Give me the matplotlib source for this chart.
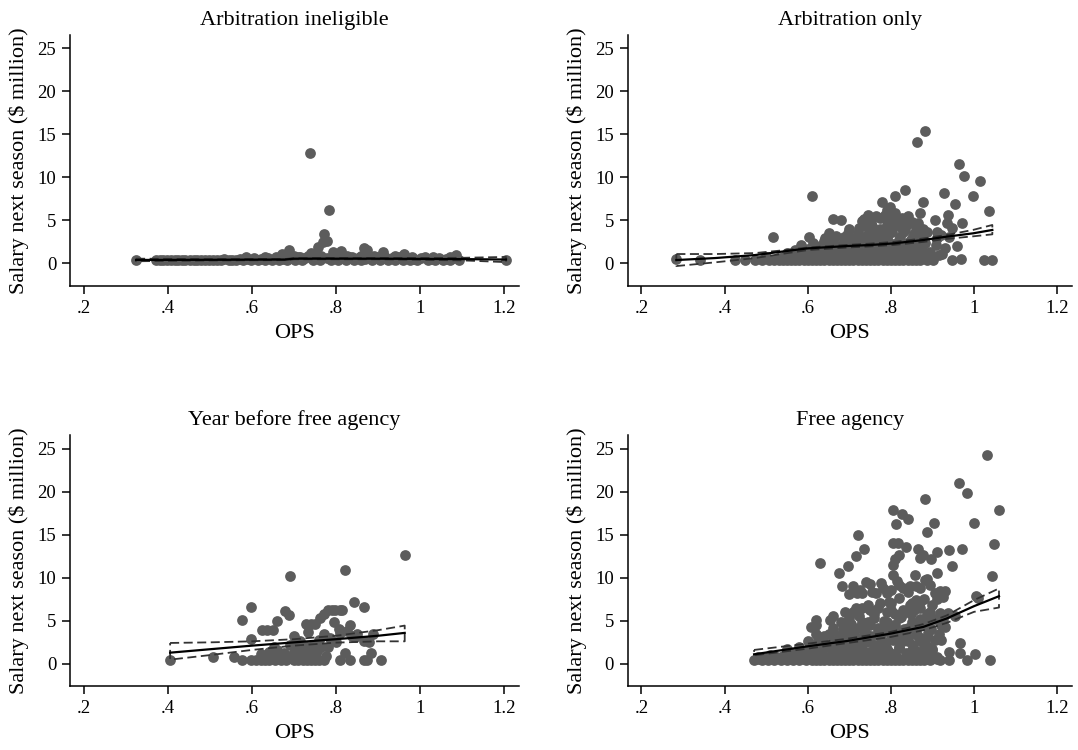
import matplotlib
matplotlib.use("Agg")
import matplotlib.pyplot as plt
import numpy as np

plt.rcParams['font.family'] = ['Liberation Serif', 'DejaVu Serif']

titles = ["Arbitration ineligible", "Arbitration only",
          "Year before free agency", "Free agency"]
xticks = [0.2, 0.4, 0.6, 0.8, 1.0, 1.2]
xticklabels = [".2", ".4", ".6", ".8", "1", "1.2"]
yticks = [0, 5, 10, 15, 20, 25]

# (OPS, salary next season in $ million)
pts_inelig = [
    (0.324, 0.4), (0.372, 0.42), (0.381, 0.4), (0.389, 0.45), (0.398, 0.4),
    (0.407, 0.42), (0.416, 0.4), (0.424, 0.45), (0.433, 0.4), (0.441, 0.42),
    (0.452, 0.4), (0.461, 0.45), (0.469, 0.4), (0.478, 0.42), (0.489, 0.4),
    (0.497, 0.45), (0.508, 0.4), (0.517, 0.42), (0.526, 0.4), (0.534, 0.5),
    (0.545, 0.4), (0.553, 0.45), (0.562, 0.4), (0.571, 0.55), (0.579, 0.4),
    (0.588, 0.5), (0.597, 0.4), (0.605, 0.6), (0.614, 0.42), (0.622, 0.5),
    (0.631, 0.4), (0.639, 0.6), (0.648, 0.45), (0.657, 0.7), (0.665, 0.4),
    (0.672, 1.05), (0.674, 0.55), (0.683, 0.4), (0.688, 1.56), (0.692, 0.6),
    (0.701, 0.45), (0.709, 0.7), (0.718, 0.4), (0.726, 0.6), (0.733, 0.9),
    (0.737, 12.8), (0.741, 1.2), (0.744, 0.45), (0.752, 0.7), (0.757, 1.94),
    (0.761, 0.4), (0.768, 2.49), (0.772, 3.46), (0.777, 2.64), (0.782, 6.26),
    (0.779, 0.6), (0.787, 0.45), (0.792, 1.28), (0.796, 0.7), (0.804, 0.4),
    (0.811, 1.4), (0.815, 0.6), (0.823, 0.45), (0.831, 0.7), (0.837, 0.78),
    (0.842, 0.4), (0.851, 0.6), (0.858, 0.45), (0.867, 1.79), (0.873, 1.56),
    (0.868, 0.5), (0.877, 0.7), (0.886, 0.4), (0.891, 0.9), (0.897, 0.6),
    (0.905, 0.45), (0.911, 1.36), (0.916, 0.7), (0.924, 0.4), (0.933, 0.6),
    (0.941, 0.45), (0.95, 0.7), (0.958, 0.4), (0.961, 1.13), (0.968, 0.6),
    (0.976, 0.45), (0.985, 0.5), (0.993, 0.4), (1.002, 0.6), (1.012, 0.7),
    (1.018, 0.45), (1.027, 0.5), (1.036, 0.4), (1.045, 0.6), (1.053, 0.45),
    (1.062, 0.5), (1.071, 0.4), (1.078, 0.6), (1.085, 0.97), (1.093, 0.45),
    (1.204, 0.4),
    (0.585, 0.75), (0.63, 0.8), (0.67, 0.75), (0.70, 0.9), (0.715, 0.8),
    (0.748, 0.95), (0.765, 0.85), (0.8, 0.9), (0.825, 0.85), (0.86, 0.9),
    (0.9, 0.8), (0.94, 0.85), (0.98, 0.8), (1.03, 0.75), (1.07, 0.7),
]
pts_arb = [
    (0.284, 0.47), (0.340, 0.4), (0.425, 0.4), (0.45, 0.4), (0.473, 0.4),
    (0.489, 0.4), (0.506, 0.4), (0.518, 0.45), (0.53, 0.4), (0.54, 0.42),
    (0.55, 0.4), (0.56, 0.45), (0.57, 0.4), (0.58, 0.42), (0.59, 0.4),
    (0.60, 0.45), (0.61, 0.4), (0.62, 0.42), (0.63, 0.4), (0.64, 0.45),
    (0.65, 0.4), (0.66, 0.42), (0.67, 0.4), (0.68, 0.45), (0.69, 0.4),
    (0.70, 0.42), (0.71, 0.4), (0.72, 0.45), (0.73, 0.4), (0.74, 0.42),
    (0.75, 0.4), (0.76, 0.45), (0.77, 0.4), (0.78, 0.42), (0.79, 0.4),
    (0.80, 0.45), (0.81, 0.4), (0.82, 0.42), (0.83, 0.4), (0.84, 0.45),
    (0.85, 0.4), (0.86, 0.42), (0.87, 0.4), (0.886, 0.4), (0.902, 0.4),
    (0.946, 0.4), (0.968, 0.5), (1.024, 0.4), (1.044, 0.4),
    (0.50, 0.8), (0.528, 0.66), (0.56, 1.0), (0.59, 0.9), (0.62, 1.1),
    (0.65, 0.9), (0.68, 1.2), (0.71, 0.9), (0.74, 1.1), (0.77, 0.9),
    (0.80, 1.2), (0.83, 0.9), (0.86, 1.1), (0.874, 1.56), (0.88, 1.1),
    (0.924, 1.09), (0.57, 1.6), (0.583, 2.14), (0.60, 1.7), (0.63, 2.0),
    (0.66, 1.6), (0.69, 2.1), (0.72, 1.7), (0.75, 2.0), (0.78, 1.6),
    (0.81, 2.1), (0.84, 1.7), (0.87, 2.0), (0.93, 1.75), (0.959, 2.02),
    (0.517, 3.07), (0.602, 3.03), (0.641, 2.92), (0.687, 3.11), (0.66, 2.6),
    (0.71, 2.7), (0.73, 3.0), (0.76, 2.6), (0.79, 3.1), (0.82, 2.7),
    (0.85, 3.0), (0.88, 2.6), (0.91, 2.9), (0.94, 3.1),
    (0.652, 3.58), (0.70, 3.97), (0.72, 3.5), (0.75, 3.9), (0.77, 3.6),
    (0.80, 4.0), (0.83, 3.6), (0.86, 3.9), (0.878, 4.0), (0.948, 4.16),
    (0.91, 3.7), (0.66, 5.13), (0.68, 5.05), (0.731, 4.94), (0.753, 4.67),
    (0.773, 5.25), (0.801, 4.86), (0.827, 5.25), (0.85, 4.86), (0.865, 4.67),
    (0.905, 5.05), (0.934, 4.67), (0.972, 4.74), (0.79, 4.5), (0.74, 4.3),
    (0.746, 5.68), (0.785, 5.64), (0.791, 6.22), (0.797, 6.61), (0.869, 5.83),
    (0.938, 5.64), (0.81, 5.9), (0.84, 5.5), (1.037, 6.1),
    (0.610, 7.85), (0.779, 7.15), (0.811, 7.85), (0.835, 8.51), (0.877, 7.15),
    (0.928, 8.16), (0.954, 6.92), (0.998, 7.85), (0.862, 14.07), (0.882, 15.36),
    (0.964, 11.51), (0.975, 10.19), (1.014, 9.6),
    # dense middle of the cloud
    (0.54, 0.7), (0.55, 1.2), (0.565, 0.6), (0.575, 1.4), (0.585, 0.8),
    (0.595, 1.3), (0.605, 0.7), (0.612, 2.4), (0.618, 1.5), (0.625, 0.7),
    (0.632, 1.9), (0.638, 2.6), (0.645, 1.3), (0.652, 0.7), (0.655, 2.3),
    (0.662, 1.6), (0.668, 3.2), (0.672, 0.8), (0.676, 2.0), (0.682, 1.4),
    (0.688, 2.6), (0.692, 0.7), (0.697, 3.5), (0.702, 1.6), (0.706, 2.3),
    (0.712, 0.8), (0.716, 3.0), (0.72, 1.9), (0.724, 4.1), (0.728, 1.2),
    (0.733, 2.5), (0.737, 0.7), (0.742, 3.3), (0.746, 1.6), (0.75, 2.2),
    (0.754, 4.3), (0.758, 0.9), (0.762, 3.0), (0.766, 1.5), (0.77, 2.5),
    (0.774, 4.0), (0.778, 0.8), (0.782, 3.4), (0.786, 1.8), (0.79, 2.8),
    (0.794, 5.2), (0.798, 1.2), (0.802, 3.7), (0.806, 2.2), (0.81, 0.8),
    (0.814, 4.5), (0.818, 1.6), (0.822, 3.1), (0.826, 2.4), (0.83, 0.9),
    (0.834, 3.9), (0.838, 1.5), (0.842, 4.6), (0.846, 2.6), (0.85, 1.1),
    (0.855, 3.4), (0.86, 2.0), (0.865, 0.8), (0.87, 3.0), (0.876, 1.6),
    (0.882, 2.4), (0.888, 3.6), (0.895, 1.3), (0.9, 0.7), (0.908, 2.1),
    (0.915, 1.0), (0.92, 3.3), (0.7, 0.6), (0.72, 0.6), (0.74, 0.6),
    (0.76, 0.6), (0.78, 0.6), (0.8, 0.6), (0.82, 0.6), (0.84, 0.6),
    (0.735, 5.2), (0.765, 5.5), (0.81, 5.0), (0.825, 4.2), (0.62, 0.6),
    (0.64, 0.7), (0.66, 0.6), (0.68, 0.7), (0.58, 0.6), (0.6, 0.8),
]
pts_yrbefore = [
    (0.405, 0.4), (0.575, 0.45), (0.598, 0.4), (0.61, 0.4), (0.62, 0.4),
    (0.63, 0.4), (0.64, 0.4), (0.655, 0.4), (0.668, 0.4), (0.68, 0.4),
    (0.70, 0.4), (0.71, 0.4), (0.72, 0.4), (0.73, 0.4), (0.74, 0.4),
    (0.75, 0.4), (0.76, 0.4), (0.77, 0.4), (0.81, 0.4), (0.832, 0.4),
    (0.866, 0.4), (0.873, 0.4), (0.906, 0.4),
    (0.507, 0.74), (0.557, 0.78), (0.575, 5.13), (0.598, 6.57), (0.598, 2.84),
    (0.623, 3.97), (0.636, 3.89), (0.65, 3.97), (0.659, 4.98), (0.652, 1.94),
    (0.64, 1.3), (0.62, 1.1), (0.66, 0.9), (0.678, 6.18), (0.687, 5.72),
    (0.69, 10.15), (0.70, 1.9), (0.71, 1.5), (0.72, 1.2), (0.73, 0.9),
    (0.69, 2.2), (0.728, 4.59), (0.74, 4.59), (0.749, 4.59), (0.732, 3.69),
    (0.762, 5.33), (0.772, 5.75), (0.78, 6.22), (0.789, 6.3), (0.798, 6.3),
    (0.81, 6.3), (0.815, 6.3), (0.821, 10.85), (0.794, 4.86), (0.806, 4.08),
    (0.834, 4.55), (0.842, 7.15), (0.867, 6.65), (0.772, 3.42), (0.78, 1.94),
    (0.82, 1.28), (0.838, 3.2), (0.845, 3.1), (0.865, 2.6), (0.877, 2.5),
    (0.883, 1.24), (0.887, 3.42), (0.963, 12.68), (0.76, 2.8), (0.745, 2.2),
    (0.755, 1.5), (0.70, 3.2), (0.715, 2.6), (0.80, 2.5), (0.81, 3.6),
    (0.825, 3.8), (0.85, 3.4),
    (0.695, 1.0), (0.705, 2.6), (0.725, 2.0), (0.735, 1.3), (0.75, 1.0),
    (0.765, 1.9), (0.775, 0.9), (0.785, 3.0), (0.66, 1.6), (0.675, 1.2),
]
pts_free = [
    (0.471, 0.4), (0.49, 0.4), (0.505, 0.4), (0.52, 0.4), (0.535, 0.4),
    (0.55, 0.4), (0.565, 0.4), (0.58, 0.4), (0.595, 0.4), (0.61, 0.4),
    (0.62, 0.4), (0.63, 0.4), (0.64, 0.4), (0.65, 0.4), (0.66, 0.4),
    (0.67, 0.4), (0.68, 0.4), (0.69, 0.4), (0.70, 0.4), (0.71, 0.4),
    (0.72, 0.4), (0.73, 0.4), (0.74, 0.4), (0.75, 0.4), (0.76, 0.4),
    (0.77, 0.4), (0.78, 0.4), (0.79, 0.4), (0.80, 0.4), (0.81, 0.4),
    (0.82, 0.4), (0.83, 0.4), (0.84, 0.4), (0.85, 0.4), (0.86, 0.4),
    (0.87, 0.4), (0.88, 0.4), (0.895, 0.4), (0.917, 0.4), (0.94, 0.4),
    (0.983, 0.4), (1.039, 0.4),
    (0.48, 0.8), (0.51, 1.0), (0.54, 0.9), (0.57, 1.1), (0.60, 0.9),
    (0.63, 1.1), (0.66, 0.9), (0.69, 1.1), (0.72, 0.9), (0.75, 1.1),
    (0.78, 0.9), (0.81, 1.1), (0.84, 0.9), (0.87, 1.1), (0.89, 0.9),
    (0.94, 1.4), (0.966, 1.2), (1.003, 1.13),
    (0.55, 1.7), (0.58, 1.9), (0.61, 1.6), (0.64, 2.0), (0.67, 1.7),
    (0.70, 1.9), (0.73, 1.6), (0.76, 2.0), (0.79, 1.7), (0.82, 1.9),
    (0.85, 1.6), (0.88, 2.0), (0.90, 1.7), (0.966, 2.41),
    (0.60, 2.6), (0.63, 2.9), (0.66, 2.5), (0.69, 2.9), (0.72, 2.6),
    (0.75, 2.9), (0.78, 2.5), (0.81, 2.9), (0.84, 2.6), (0.87, 2.9),
    (0.92, 2.8), (0.62, 3.5), (0.652, 3.5), (0.68, 3.3), (0.71, 3.7),
    (0.74, 3.4), (0.77, 3.8), (0.80, 3.3), (0.83, 3.7), (0.86, 3.4),
    (0.89, 3.6), (0.608, 4.28), (0.66, 4.2), (0.69, 4.5), (0.72, 4.1),
    (0.75, 4.5), (0.78, 4.2), (0.81, 4.5), (0.84, 4.1), (0.861, 3.9),
    (0.93, 4.3), (0.885, 4.5), (0.619, 5.05), (0.653, 5.05), (0.68, 4.9),
    (0.70, 5.3), (0.73, 4.9), (0.76, 5.3), (0.79, 4.9), (0.82, 5.3),
    (0.85, 4.9), (0.87, 5.2), (0.89, 4.9), (0.925, 5.2),
    (0.71, 6.0), (0.73, 6.5), (0.75, 6.2), (0.77, 6.5), (0.79, 6.0),
    (0.81, 5.8), (0.83, 6.3), (0.845, 6.8), (0.87, 6.5), (0.887, 5.8),
    (0.917, 5.9), (0.937, 5.9), (0.955, 5.5),
    (0.699, 8.16), (0.718, 8.17), (0.731, 8.17), (0.740, 9.52), (0.754, 8.3),
    (0.776, 9.4), (0.79, 8.2), (0.78, 8.8), (0.806, 10.3), (0.683, 9.02),
    (0.674, 10.57), (0.82, 9.1), (0.83, 8.8), (0.845, 9.0), (0.86, 9.0),
    (0.859, 10.3), (0.883, 9.7), (0.906, 8.2), (0.918, 8.4), (0.93, 8.5),
    (0.91, 10.5), (1.004, 7.85), (1.01, 7.6), (0.80, 7.0), (0.82, 7.6),
    (0.85, 7.0), (0.86, 7.4), (0.88, 7.5), (0.90, 6.8), (0.888, 9.9),
    (0.629, 11.7), (0.697, 11.39), (0.715, 12.52), (0.720, 14.93), (0.736, 13.34),
    (0.805, 11.5), (0.811, 12.17), (0.819, 12.64), (0.804, 17.85), (0.805, 14.07),
    (0.813, 16.21), (0.817, 14.0), (0.826, 17.42), (0.840, 16.8), (0.836, 13.53),
    (0.869, 12.25), (0.877, 12.64), (0.896, 12.13), (0.910, 12.99), (0.864, 13.3),
    (0.881, 19.2), (0.886, 15.32), (0.903, 16.33), (0.94, 13.22), (0.946, 11.35),
    (0.963, 21.0), (0.97, 13.3), (0.982, 19.83), (1.0, 16.4), (1.032, 24.3),
    (1.049, 13.92), (1.043, 10.19), (1.059, 17.88),
    # dense middle of the cloud
    (0.48, 0.6), (0.495, 0.7), (0.51, 0.5), (0.525, 0.8), (0.54, 0.6),
    (0.555, 1.3), (0.56, 0.6), (0.57, 0.8), (0.585, 1.5), (0.59, 0.6),
    (0.6, 1.2), (0.605, 2.2), (0.612, 0.7), (0.618, 1.8), (0.625, 2.8),
    (0.63, 0.6), (0.635, 1.4), (0.64, 3.2), (0.645, 2.2), (0.65, 0.8),
    (0.655, 1.7), (0.66, 3.8), (0.664, 2.6), (0.668, 0.7), (0.672, 1.3),
    (0.676, 3.0), (0.68, 2.0), (0.684, 4.0), (0.688, 0.8), (0.692, 2.6),
    (0.696, 1.5), (0.7, 3.5), (0.704, 4.6), (0.708, 0.7), (0.712, 2.2),
    (0.716, 1.3), (0.72, 3.0), (0.724, 5.5), (0.728, 1.8), (0.732, 0.7),
    (0.736, 3.8), (0.74, 2.5), (0.744, 4.8), (0.748, 1.4), (0.752, 3.2),
    (0.756, 0.8), (0.76, 5.8), (0.764, 2.2), (0.768, 4.2), (0.772, 1.6),
    (0.776, 3.0), (0.78, 0.7), (0.784, 5.0), (0.788, 2.4), (0.792, 3.8),
    (0.796, 1.3), (0.8, 6.2), (0.804, 2.8), (0.808, 4.5), (0.812, 0.8),
    (0.816, 3.4), (0.82, 1.8), (0.824, 5.4), (0.828, 2.6), (0.832, 4.0),
    (0.836, 1.2), (0.84, 3.0), (0.844, 0.7), (0.848, 5.8), (0.852, 2.2),
    (0.856, 4.2), (0.86, 1.5), (0.864, 3.2), (0.868, 0.8), (0.872, 2.6),
    (0.876, 4.6), (0.88, 1.3), (0.884, 3.0), (0.888, 2.0), (0.892, 0.7),
    (0.896, 4.0), (0.9, 1.6), (0.905, 2.8), (0.91, 0.8), (0.915, 3.4),
    (0.62, 4.5), (0.66, 5.6), (0.69, 6.0), (0.715, 6.5), (0.745, 6.8),
    (0.775, 7.0), (0.795, 7.2), (0.83, 5.9), (0.855, 6.3), (0.87, 7.2),
    (0.895, 6.0), (0.905, 5.2), (0.92, 4.5), (0.7, 0.5), (0.73, 0.5),
    (0.76, 0.5), (0.79, 0.5), (0.82, 0.5), (0.85, 0.5), (0.88, 0.5),
    (0.91, 0.6), (0.71, 9.0), (0.725, 8.6), (0.75, 9.3), (0.765, 8.2),
    (0.8, 8.6), (0.815, 9.6), (0.84, 8.3), (0.87, 8.8), (0.895, 9.2),
    (0.91, 7.5), (0.925, 7.8),
]

# fitted line with confidence band: (OPS, fit, upper, lower)
fit_inelig = [(0.324, 0.4, 0.55, 0.25), (0.5, 0.42, 0.5, 0.34),
              (0.68, 0.45, 0.52, 0.38), (0.70, 0.55, 0.62, 0.48),
              (0.9, 0.55, 0.62, 0.48), (1.1, 0.5, 0.65, 0.35),
              (1.204, 0.45, 0.75, 0.15)]
fit_arb = [(0.284, 0.39, 1.09, -0.31), (0.377, 0.62, 1.09, 0.12),
           (0.473, 0.97, 1.2, 0.62), (0.536, 1.36, 1.5, 1.09),
           (0.6, 1.75, 1.85, 1.55), (0.695, 2.02, 2.15, 1.85),
           (0.751, 2.14, 2.3, 1.98), (0.807, 2.33, 2.5, 2.15),
           (0.878, 2.72, 2.9, 2.5), (0.934, 3.11, 3.3, 2.85),
           (0.998, 3.5, 3.9, 3.15), (1.044, 3.89, 4.47, 3.38)]
fit_yrbefore = [(0.405, 1.28, 2.41, 0.47), (0.5, 1.68, 2.48, 1.0),
                (0.6, 2.1, 2.6, 1.6), (0.7, 2.48, 2.85, 2.1),
                (0.8, 2.85, 3.25, 2.45), (0.9, 3.25, 3.9, 2.6),
                (0.963, 3.58, 4.43, 2.6)]
fit_free = [(0.471, 1.09, 1.6, 0.97), (0.6, 2.02, 2.33, 1.75),
            (0.695, 2.64, 2.9, 2.4), (0.8, 3.5, 3.7, 3.11),
            (0.878, 4.28, 4.6, 3.89), (0.934, 5.25, 5.6, 4.74),
            (1.0, 6.69, 7.39, 6.03), (1.06, 7.85, 8.75, 6.53)]

panels = [pts_inelig, pts_arb, pts_yrbefore, pts_free]
fits = [fit_inelig, fit_arb, fit_yrbefore, fit_free]

fig = plt.figure(figsize=(10.78, 7.5), dpi=100)
boxes = [[0.065, 0.619, 0.4165, 0.3347], [0.5823, 0.619, 0.4119, 0.3347],
         [0.065, 0.0853, 0.4165, 0.3347], [0.5823, 0.0853, 0.4119, 0.3347]]

for k in range(4):
    ax = fig.add_axes(boxes[k])
    p = np.array(panels[k])
    f = np.array(fits[k])
    ax.scatter(p[:, 0], p[:, 1], s=60, color='#5c5c5c', linewidths=0, zorder=2)
    fx, fy, up, lo = f[:, 0], f[:, 1], f[:, 2], f[:, 3]
    ax.plot(np.r_[fx, fx[::-1], fx[0]], np.r_[up, lo[::-1], up[0]],
            color='#333333', lw=1.3, ls=(0, (5, 2.5)), zorder=3)
    ax.plot(fx, fy, color='black', lw=1.6, zorder=4)

    ax.set_xlim(0.167, 1.235)
    ax.set_ylim(-2.6, 26.6)
    ax.set_xticks(xticks)
    ax.set_xticklabels(xticklabels)
    ax.set_yticks(yticks)
    for s in ['top', 'right']:
        ax.spines[s].set_visible(False)
    ax.spines['left'].set_linewidth(1.1)
    ax.spines['bottom'].set_linewidth(1.1)
    ax.tick_params(direction='out', length=6, width=1.1, labelsize=13.5, pad=4)
    ax.set_title(titles[k], fontsize=16, pad=7)
    ax.set_xlabel("OPS", fontsize=16, labelpad=5)
    ax.set_ylabel("Salary next season (\\$ million)", fontsize=16, labelpad=6)

fig.savefig("out.png", dpi=100)
